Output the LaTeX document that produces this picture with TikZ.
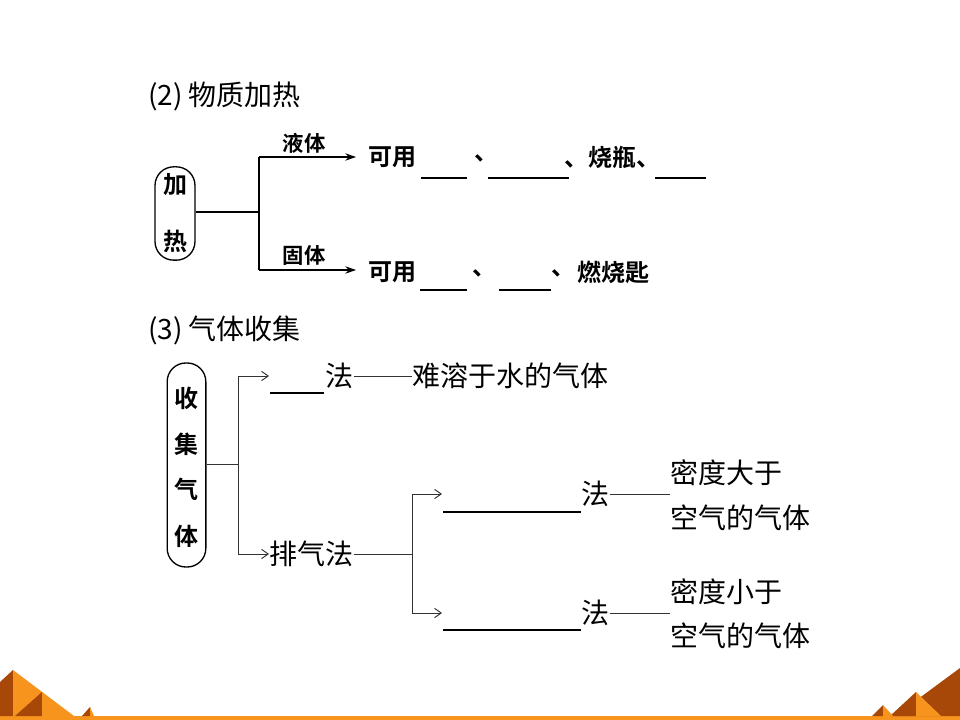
\documentclass[tikz,border=0pt]{standalone}
\usepackage{fontspec}
\setmainfont{Noto Sans CJK SC}[BoldFont=Noto Sans CJK SC Bold]
\usetikzlibrary{arrows.meta}
\definecolor{orng}{RGB}{247,148,29}
\definecolor{drk}{RGB}{168,72,8}
\begin{document}
\begin{tikzpicture}[x=0.75pt,y=-0.75pt,
  ttl/.style={font=\fontsize{21}{21}\selectfont, inner sep=0, anchor=west},
  tb/.style={font=\fontsize{18}{18}\selectfont\bfseries, inner sep=0, anchor=west},
  lab/.style={font=\fontsize{16}{16}\selectfont\bfseries, inner sep=0},
  boxch/.style={font=\fontsize{18}{18}\selectfont\bfseries, inner sep=0},
  tr/.style={font=\fontsize{21}{21}\selectfont, inner sep=0, anchor=west},
  pill/.style={draw, line width=1pt, rounded corners=14pt, inner sep=0},
  ln1/.style={line width=1pt},
  ln2/.style={line width=0.7pt, black!80},
  blank/.style={line width=1.2pt},
  arr1/.style={ln1, -{Stealth[length=8pt,width=5.5pt]}},
  arr2/.style={ln2, -{Straight Barb[length=5pt,width=7pt]}}]
\useasboundingbox (0,0) rectangle (960,720);

% ---------- part (2)
\node[ttl] (t2) at (148,96) {(2)\hspace{4pt}物质加热};
\node[pill, minimum width=30pt, minimum height=70pt] (b1) at (175,213.5) {};
\node[boxch] (b1a) at (175,185) {加};
\node[boxch] (b1b) at (175,241) {热};
\coordinate (j1) at (259,212);
\coordinate (j1t) at (259,157);
\coordinate (j1b) at (259,270);
\draw[ln1] (b1.east |- j1) -- (j1);
\draw[ln1] (j1t) -- (j1b);
\node[tb] (ky1) at (368,157) {可用};
\node[tb] (ky2) at (368,272) {可用};
\draw[arr1, shorten >=9pt] (j1t) -- (ky1.west |- j1t);
\draw[arr1, shorten >=9pt] (j1b) -- (ky2.west |- j1b);
\node[lab] (ly) at (304,143) {液体};
\node[lab] (gt) at (304,255) {固体};
% upper line
\draw[blank] (421,178) -- (467,178);
\node[tb] (d1) at (474,158) {、};
\draw[blank] (488,178) -- (569,178);
\node[tb] (sp) at (564,157) {、烧瓶、};
\draw[blank] (655,178) -- (706,178);
% lower line
\draw[blank] (420,290) -- (467,290);
\node[tb] (d2) at (472,273) {、};
\draw[blank] (499,290) -- (551,290);
\node[tb] (d3) at (551,273) {、};
\node[tb] (rs) at (577,272) {燃烧匙};

% ---------- part (3)
\node[ttl] (t3) at (148,330) {(3)\hspace{4pt}气体收集};
\node[pill, minimum width=29pt, minimum height=153pt, line width=1pt] (b2) at (186.5,465) {};
\node[boxch] (b2a) at (186.5,398) {收};
\node[boxch] (b2b) at (186.5,444) {集};
\node[boxch] (b2c) at (186.5,489) {气};
\node[boxch] (b2d) at (186.5,536) {体};
\coordinate (j2) at (238,464);
\coordinate (j2t) at (238,376);
\coordinate (j2b) at (238,554);
\draw[ln2] (b2.east |- j2) -- (j2);
\draw[ln2] (j2t) -- (j2b);
\coordinate (a1) at (269,376);
\coordinate (a2) at (269,554);
\draw[arr2] (j2t) -- (a1);
\draw[arr2] (j2b) -- (a2);
\draw[blank] (270,393) -- (324,393);
\node[tr] (fa1) at (325,376) {法};
\node[tr] (ns) at (412,376) {难溶于水的气体};
\draw[ln2] (fa1.east) -- (ns.west);
\node[tr] (pq) at (269,554) {排气法};
\coordinate (j3) at (412,554);
\coordinate (j3t) at (412,494);
\coordinate (j3b) at (412,613);
\draw[ln2] (pq.east) -- (j3);
\draw[ln2] (j3t) -- (j3b);
\coordinate (a3) at (442,494);
\coordinate (a4) at (442,613);
\draw[arr2] (j3t) -- (a3);
\draw[arr2] (j3b) -- (a4);
\draw[blank] (443,512) -- (581,512);
\draw[blank] (443,630) -- (581,630);
\node[tr] (fa2) at (581,494) {法};
\node[tr] (fa3) at (581,613) {法};
\node[tr] (md1) at (670,473) {密度大于};
\node[tr] (kq1) at (670,518) {空气的气体};
\node[tr] (md2) at (670,592) {密度小于};
\node[tr] (kq2) at (670,636) {空气的气体};
\draw[ln2] (fa2.east) -- (fa2.east -| md1.west);
\draw[ln2] (fa3.east) -- (fa3.east -| md2.west);

% ---------- bottom decoration
\fill[orng] (0,716) rectangle (960,720);
\fill[drk] (0,682) -- (13,670) -- (13,716) -- (0,716) -- cycle;
\fill[orng] (13,670) -- (74,716) -- (13,716) -- cycle;
\fill[drk] (15,716) -- (42,692) -- (42,716) -- cycle;
\fill[orng] (42,692) -- (70,716) -- (42,716) -- cycle;
\fill[drk] (82,716) -- (90,707) -- (90,716) -- cycle;
\fill[orng] (90,707) -- (94,716) -- (90,716) -- cycle;
\fill[drk] (895,716) -- (960,668) -- (960,716) -- cycle;
\fill[drk] (890,716) -- (916,692) -- (916,716) -- cycle;
\fill[orng] (916,692) -- (941,716) -- (916,716) -- cycle;
\fill[drk] (872,716) -- (883,705) -- (883,716) -- cycle;
\fill[orng] (883,705) -- (893,716) -- (883,716) -- cycle;
\end{tikzpicture}
\end{document}
